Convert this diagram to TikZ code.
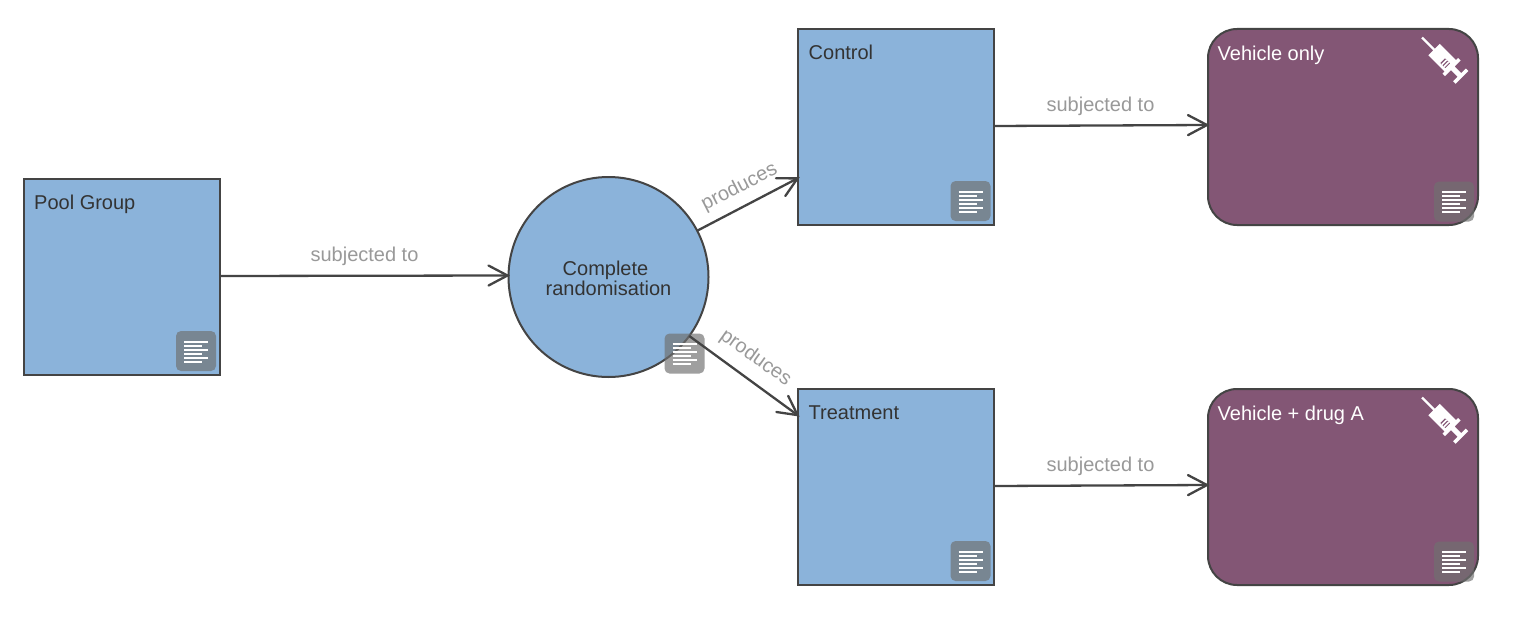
\documentclass[tikz,border=0pt]{standalone}
\usepackage{fontspec}
\setmainfont{Liberation Sans}
\usetikzlibrary{arrows.meta}
\definecolor{blueFill}{HTML}{8BB3DA}
\definecolor{purpleFill}{HTML}{835675}
\definecolor{edgeCol}{HTML}{444444}
\definecolor{labelCol}{HTML}{999999}
\definecolor{darkText}{HTML}{333333}
\pgfarrowsdeclare{openvee}{openvee}
{\pgfarrowsleftextend{-20pt}\pgfarrowsrightextend{1pt}}
{\pgfsetdash{}{0pt}\pgfsetroundcap\pgfsetmiterjoin\pgfsetlinewidth{2.3pt}
 \pgfpathmoveto{\pgfpoint{-19pt}{10pt}}
 \pgfpathlineto{\pgfpoint{0pt}{0pt}}
 \pgfpathlineto{\pgfpoint{-19pt}{-10pt}}
 \pgfusepathqstroke}
\tikzset{
  x=1pt,y=-1pt,
  blockbox/.style={draw=edgeCol,line width=2pt,fill=blueFill,minimum width=196pt,minimum height=196pt,inner sep=0pt,outer sep=0pt},
  roundbox/.style={draw=edgeCol,line width=2pt,fill=purpleFill,minimum width=270pt,minimum height=196pt,inner sep=0pt,outer sep=0pt,rounded corners=29pt},
  circbox/.style={draw=edgeCol,line width=2pt,fill=blueFill,circle,minimum size=200pt,inner sep=0pt,outer sep=0pt},
  titletext/.style={font=\fontsize{20}{20}\selectfont,text=darkText,anchor=base west,inner sep=0pt},
  whitetext/.style={font=\fontsize{20}{20}\selectfont,text=white,anchor=base west,inner sep=0pt},
  circtext/.style={font=\fontsize{20}{20}\selectfont,text=darkText,anchor=base,inner sep=0pt},
  edgetext/.style={font=\fontsize{20}{20}\selectfont,text=labelCol,inner sep=0pt},
  link/.style={draw=edgeCol,line width=2.3pt,-openvee},
  badgebox/.style={fill=black!56,fill opacity=.67,rounded corners=5pt,minimum size=40pt,inner sep=0pt,outer sep=0pt,anchor=north west},
  badgeline/.style={draw=white,line width=2pt},
  syringe/.style={fill=white,draw=none},
}
\newcommand{\notebadge}[3]{%
  \node[badgebox] (#1) at (#2,#3) {};
  \foreach \k/\w in {0/24,1/18,2/24,3/18,4/24,5/18}
    \draw[badgeline] (#2+8,#3+10.7+4*\k) -- ++(\w,0);
}
\newcommand{\syringeicon}[2]{%
  \begin{scope}[shift={(#1,#2)},rotate=-45,x=1pt,y=1pt]
    \fill[syringe] (0,-1.2) -- (17,-1.2) -- (17,-8) -- (40,-8) -- (40,-11) -- (43.5,-11) -- (43.5,-2.5) -- (53,-2.5) -- (53,-9) -- (56.5,-9) -- (56.5,9) -- (53,9) -- (53,2.5) -- (43.5,2.5) -- (43.5,11) -- (40,11) -- (40,8) -- (17,8) -- (17,1.2) -- (0,1.2) -- cycle;
    \fill[purpleFill] (31,-5) rectangle (38,1.5);
    \fill[white] (32.5,-5) rectangle (34,1.5);
    \fill[white] (35.5,-5) rectangle (37,1.5);
  \end{scope}
}
\begin{document}
\begin{tikzpicture}
  \useasboundingbox (0,0) rectangle (1522,618);
  \fill[white] (0,0) rectangle (1522,618);

  \node[blockbox] (pool) at (122,277) {};
  \node[circbox] (rand) at (608.5,277) {};
  \node[blockbox] (control) at (896.4,127) {};
  \node[blockbox] (treat) at (896.4,487) {};
  \node[roundbox] (veh) at (1343,127) {};
  \node[roundbox] (drug) at (1343,487) {};

  \node[titletext] (poolT) at (34,209) {Pool Group};
  \node[titletext] (controlT) at (808.5,59.5) {Control};
  \node[titletext] (treatT) at (808.5,419) {Treatment};
  \node[whitetext] (vehT) at (1217.5,60) {Vehicle only};
  \node[whitetext] (drugT) at (1217.5,420) {Vehicle + drug A};
  \node[circtext] (randA) at (605.5,275) {Complete};
  \node[circtext] (randB) at (608.5,295) {randomisation};

  \notebadge{b1}{176}{331}
  \notebadge{b2}{664.5}{333.5}
  \notebadge{b3}{950.5}{181}
  \notebadge{b4}{950.5}{541}
  \notebadge{b5}{1434}{181.5}
  \notebadge{b6}{1434}{541.5}

  \syringeicon{1422}{37.5}
  \syringeicon{1422}{397.5}

  \draw[link] ([yshift=1pt]pool.east) -- ([yshift=1.5pt]rand.west);
  \draw[link] (rand) -- (control);
  \draw[link] (rand) -- (treat);
  \draw[link] ([yshift=1pt]control.east) -- ([yshift=2pt]veh.west);
  \draw[link] ([yshift=1pt]treat.east) -- ([yshift=2pt]drug.west);

  \node[edgetext] (e1) at (364.5,256) {subjected to};
  \node[edgetext,rotate=27] (e2) at (739.5,187) {produces};
  \node[edgetext,rotate=-35.5] (e3) at (755.5,358) {produces};
  \node[edgetext] (e4) at (1100.5,106) {subjected to};
  \node[edgetext] (e5) at (1100.5,466) {subjected to};
\end{tikzpicture}
\end{document}
